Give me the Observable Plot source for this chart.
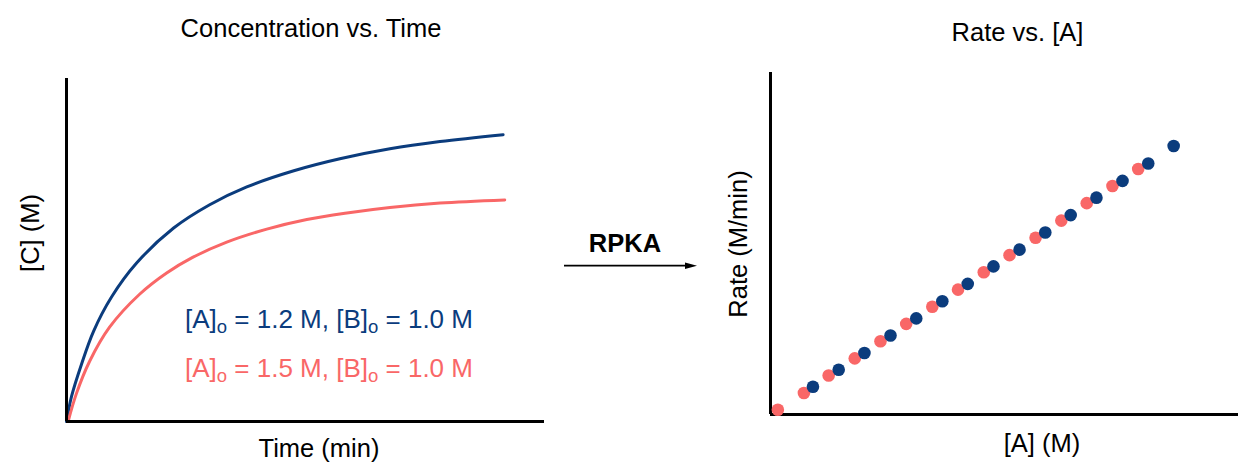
<!DOCTYPE html>
<html><head><meta charset="utf-8">
<script src="https://cdn.jsdelivr.net/npm/d3@7"></script>
<script src="https://cdn.jsdelivr.net/npm/@observablehq/plot@0.6"></script>
<style>
html,body{margin:0;padding:0;background:#fff;}
#wrap{position:relative;width:1248px;height:466px;overflow:hidden;font-family:"Liberation Sans",Arial,Helvetica,sans-serif;}
#wrap svg{position:absolute;top:0;}
</style></head><body><div id="wrap"></div>
<script>
// ---- data ----
const BLUE = "#0b3c7d", RED = "#f96767";
// Concentration vs. Time  (time in min, [C] in M)
const timeBlue = [0, 0.69, 2.06, 3.71, 6.18, 9.62, 14.70, 19.65, 24.74, 31.20, 37.52, 44.39, 51.26, 59.92];
const concBlue = [0, 0.073, 0.167, 0.263, 0.363, 0.462, 0.564, 0.632, 0.684, 0.731, 0.766, 0.795, 0.816, 0.836];
const timeRed = [0.22, 1.37, 3.16, 5.91, 10.03, 13.74, 17.18, 21.99, 27.49, 32.98, 38.48, 44.39, 51.26, 60.14];
const concRed = [0, 0.082, 0.175, 0.275, 0.371, 0.433, 0.477, 0.523, 0.561, 0.589, 0.608, 0.624, 0.637, 0.646];
// Rate vs. [A]  ([A] in M, rate in M/min)
const aRed = [0.022, 0.100, 0.174, 0.252, 0.329, 0.406, 0.484, 0.561, 0.638, 0.715, 0.793, 0.870, 0.946, 1.023, 1.100];
const rateRed = [0.014, 0.063, 0.114, 0.164, 0.214, 0.265, 0.315, 0.365, 0.416, 0.466, 0.517, 0.567, 0.618, 0.668, 0.718];
const aBlue = [0.127, 0.204, 0.281, 0.359, 0.436, 0.514, 0.590, 0.667, 0.745, 0.822, 0.898, 0.975, 1.053, 1.130, 1.206];
const rateBlue = [0.081, 0.131, 0.180, 0.231, 0.281, 0.331, 0.382, 0.433, 0.482, 0.532, 0.583, 0.634, 0.683, 0.734, 0.785];
const legendBlue = ["[A]", "o", " = 1.2 M, [B]", "o", " = 1.0 M"];
const legendRed = ["[A]", "o", " = 1.5 M, [B]", "o", " = 1.0 M"];

const blue = timeBlue.map((t, i) => ({t, c: concBlue[i]}));
const red = timeRed.map((t, i) => ({t, c: concRed[i]}));
const ptsRed = aRed.map((a, i) => ({a, r: rateRed[i]}));
const ptsBlue = aBlue.map((a, i) => ({a, r: rateBlue[i]}));

const FONT = '"Liberation Sans",Arial,Helvetica,sans-serif';
const wrap = document.getElementById("wrap");

const left = Plot.plot({
  width: 560, height: 466,
  marginLeft: 66, marginRight: 16, marginTop: 78, marginBottom: 45,
  style: {fontFamily: FONT, background: "transparent"},
  x: {domain: [0, 65.6], axis: null},
  y: {domain: [0, 1], axis: null},
  marks: [
    Plot.line(blue, {x: "t", y: "c", stroke: BLUE, strokeWidth: 3, curve: "catmull-rom"}),
    Plot.line(red, {x: "t", y: "c", stroke: RED, strokeWidth: 3, curve: "catmull-rom"}),
    Plot.ruleY([0], {strokeWidth: 3, stroke: "#000"}),
    Plot.ruleX([0], {strokeWidth: 3, stroke: "#000"})
  ]
});
left.style.left = "0px";
wrap.appendChild(left);

const right = Plot.plot({
  width: 548, height: 466,
  marginLeft: 70, marginRight: 10, marginTop: 72, marginBottom: 52,
  style: {fontFamily: FONT, background: "transparent"},
  x: {domain: [0, 1.4], axis: null},
  y: {domain: [0, 1], axis: null},
  marks: [
    Plot.ruleY([0], {strokeWidth: 3, stroke: "#000"}),
    Plot.ruleX([0], {strokeWidth: 3, stroke: "#000"}),
    Plot.dot(ptsRed, {x: "a", y: "r", r: 6.3, fill: RED}),
    Plot.dot(ptsBlue, {x: "a", y: "r", r: 6.3, fill: BLUE})
  ]
});
right.style.left = "700px";
wrap.appendChild(right);

// ---- overlay text & arrow ----
const ov = d3.create("svg").attr("width", 1248).attr("height", 466)
  .style("left", "0px").style("font-family", FONT);
function label(txt, x, y, opts = {}) {
  const t = ov.append("text").attr("x", x).attr("y", y)
    .attr("text-anchor", opts.anchor || "middle")
    .attr("font-size", opts.size || 25.5)
    .attr("font-weight", opts.weight || "normal")
    .attr("fill", opts.fill || "#000").text(txt);
  if (opts.rotate) t.attr("transform", `rotate(-90 ${x} ${y})`);
  return t;
}
label("Concentration vs. Time", 311, 37);
label("Rate vs. [A]", 1017.5, 41);
label("Time (min)", 319, 457);
label("[A] (M)", 1042, 452);
label("[C] (M)", 39, 233, {rotate: true});
label("Rate (M/min)", 746.5, 244, {rotate: true});
label("RPKA", 625, 251.5, {weight: "bold"});

function legend(parts, y, color) {
  const t = ov.append("text").attr("x", 185).attr("y", y).attr("fill", color)
    .attr("font-size", 26).style("white-space", "pre");
  parts.forEach((p, i) => {
    const sub = i % 2 === 1;
    t.append("tspan").attr("font-size", sub ? 18.5 : 26)
      .attr("dy", i === 0 ? 0 : (sub ? 4.5 : -4.5)).text(p);
  });
}
legend(legendBlue, 328.3, BLUE);
legend(legendRed, 377.3, RED);

ov.append("line").attr("x1", 564).attr("x2", 688).attr("y1", 265.7).attr("y2", 265.7)
  .attr("stroke", "#000").attr("stroke-width", 1.7);
ov.append("path").attr("d", "M685,262.5 L697,265.7 L685,268.9 Z").attr("fill", "#000");

wrap.appendChild(ov.node());
</script>
</body></html>
